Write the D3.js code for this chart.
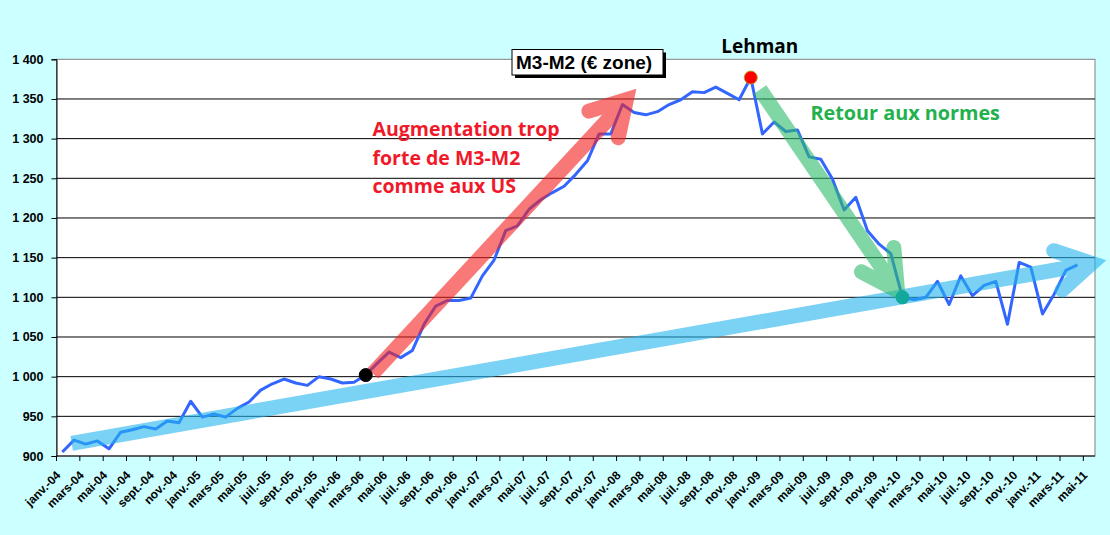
<!DOCTYPE html>
<html>
<head>
<meta charset="utf-8">
<script src="https://cdn.jsdelivr.net/npm/d3@7"></script>
<style>
  body { margin: 0; background: #ccffff; }
  svg { display: block; }
</style>
</head>
<body>
<svg id="chart" width="1110" height="535"></svg>
<script>
// Month labels (French, as in the source spreadsheet)
const monthNames = ["janv.", "févr.", "mars", "avr.", "mai", "juin", "juil.", "août", "sept.", "oct.", "nov.", "déc."];
const years = ["04", "05", "06", "07", "08", "09", "10", "11"];
const categories = [];
years.forEach(yy => monthNames.forEach(m => categories.push(m + "-" + yy)));
categories.length = 89; // janv.-04 .. mai-11

// M3-M2 euro zone, monthly
const m3m2 = [
  905, 920, 915, 919, 909, 930, 933, 937, 934, 944, 942, 969,
  949, 953, 949, 960, 968, 983, 991, 997, 992, 989, 1000, 997,
  992, 993, 1002, 1017, 1031, 1024, 1033, 1066, 1089, 1096, 1096, 1099,
  1127, 1147, 1184, 1190, 1211, 1223, 1232, 1240, 1255, 1272, 1306, 1306,
  1343, 1333, 1330, 1334, 1343, 1349, 1359, 1358, 1365, 1357, 1349, 1377,
  1306, 1321, 1309, 1311, 1277, 1274, 1249, 1210, 1226, 1184, 1167, 1155,
  1100, 1097, 1100, 1120, 1091, 1127, 1102, 1115, 1120, 1066, 1144, 1138,
  1079, 1104, 1134, 1141
];

const yTicks = [900, 950, 1000, 1050, 1100, 1150, 1200, 1250, 1300, 1350, 1400];

// highlighted months: index -> colour
const markers = [
  { i: 26, color: "#000000" },
  { i: 59, color: "#ff0000" },
  { i: 72, color: "#12a89c" }
];

// arrows in data space: [month position, value]
const trendShaft = [[1.3, 916], [88.3, 1141.6]];
const trendHead = [[85.46, 1158.8], [88.72, 1142.8], [86.19, 1109.2]];
const boomShaft = [[27.1, 1004], [48.55, 1344.5]];
const boomHead = [[45.62, 1334.7], [48.84, 1349.2], [48.14, 1301.2]];
const bustShaft = [[60.3, 1362], [71.82, 1113.5]];
const bustHead = [[68.99, 1132.2], [72.07, 1108.3], [71.76, 1162.8]];

const svg = d3.select("#chart");
const plotL = 56.5, plotR = 1095, plotT = 59.3, plotB = 456;

const x = d3.scaleBand().domain(d3.range(categories.length)).range([plotL, plotR]);
const xPos = d3.scaleLinear().domain([0, categories.length]).range([plotL, plotR]);
const y = d3.scaleLinear().domain([900, 1400]).range([plotB, plotT]);
const cx = i => x(i) + x.bandwidth() / 2;

// plot area
svg.append("rect")
  .attr("x", plotL).attr("y", plotT)
  .attr("width", plotR - plotL).attr("height", plotB - plotT)
  .attr("fill", "#fff").attr("stroke", "#808080").attr("stroke-width", 1);

// gridlines
svg.append("g").selectAll("line")
  .data(yTicks.filter(v => v > 900 && v < 1400))
  .enter().append("line")
  .attr("x1", plotL).attr("x2", plotR)
  .attr("y1", d => y(d)).attr("y2", d => y(d))
  .attr("stroke", "#000").attr("stroke-width", 1);

// y axis
const yAxis = svg.append("g")
  .attr("transform", `translate(${plotL},0)`)
  .call(d3.axisLeft(y).tickValues(yTicks).tickSize(5).tickPadding(8)
    .tickFormat(d => d3.format(",")(d).replace(",", " ")));
yAxis.select(".domain").attr("stroke", "#000");
yAxis.selectAll("text")
  .attr("font-family", "Liberation Sans, Arial, sans-serif")
  .attr("font-weight", "bold").attr("font-size", "12.5px").attr("fill", "#000");

// x axis
svg.append("line")
  .attr("x1", plotL).attr("x2", plotR).attr("y1", plotB).attr("y2", plotB)
  .attr("stroke", "#000");
const shown = d3.range(0, categories.length, 2);
svg.append("g").selectAll("line")
  .data(shown).enter().append("line")
  .attr("x1", d => x(d)).attr("x2", d => x(d))
  .attr("y1", plotB).attr("y2", plotB + 5)
  .attr("stroke", "#000");
svg.append("g").selectAll("text")
  .data(shown).enter().append("text")
  .attr("transform", d => `translate(${cx(d) - 1},${plotB + 20}) rotate(-45)`)
  .attr("text-anchor", "end")
  .attr("font-family", "Liberation Sans, Arial, sans-serif")
  .attr("font-weight", "bold").attr("font-size", "12px")
  .text(d => categories[d]);

// data line
const line = d3.line().x((d, i) => cx(i)).y(d => y(d));
svg.append("path")
  .datum(m3m2)
  .attr("d", line)
  .attr("fill", "none")
  .attr("stroke", "#3366ff")
  .attr("stroke-width", 3)
  .attr("stroke-linejoin", "round");

// arrows
const pt = d3.line().x(d => xPos(d[0])).y(d => y(d[1]));
function arrow(shaft, head, color) {
  const g = svg.append("g").attr("opacity", 0.6);
  g.append("path").attr("d", pt(shaft))
    .attr("fill", "none").attr("stroke", color).attr("stroke-width", 15);
  g.append("path").attr("d", pt(head))
    .attr("fill", "none").attr("stroke", color).attr("stroke-width", 15)
    .attr("stroke-linecap", "round").attr("stroke-linejoin", "miter")
    .attr("stroke-miterlimit", 10);
}
arrow(trendShaft, trendHead, "#22b4ee");
arrow(boomShaft, boomHead, "#f51f1f");
arrow(bustShaft, bustHead, "#2ebc6a");

// markers
svg.append("g").selectAll("circle")
  .data(markers).enter().append("circle")
  .attr("cx", d => cx(d.i))
  .attr("cy", d => y(m3m2[d.i]))
  .attr("r", 6.5)
  .attr("fill", d => d.color)
  .attr("stroke", d => d.i === 59 ? "#b89a20" : d.color)
  .attr("stroke-width", 1);

// annotations
const sans = "Open Sans, Noto Sans, sans-serif";
const boomText = svg.append("text")
  .attr("font-family", sans).attr("font-weight", "bold")
  .attr("font-size", "19.5px").attr("fill", "#f0192a");
["Augmentation trop", "forte de M3-M2", "comme aux US"].forEach((t, k) => {
  boomText.append("tspan").attr("x", 372.5).attr("y", 136 + k * 28.5).text(t);
});

svg.append("text")
  .attr("x", 810.5).attr("y", 120)
  .attr("font-family", sans).attr("font-weight", "bold")
  .attr("font-size", "19.8px").attr("fill", "#22b14c")
  .text("Retour aux normes");

svg.append("text")
  .attr("x", cx(59) + 9).attr("y", 53)
  .attr("text-anchor", "middle")
  .attr("font-family", sans).attr("font-weight", "bold")
  .attr("font-size", "19px").attr("fill", "#000")
  .text("Lehman");

// title box with shadow
svg.append("rect").attr("x", 515).attr("y", 52.5).attr("width", 151).attr("height", 25.5).attr("fill", "#000");
svg.append("rect").attr("x", 512).attr("y", 49.5).attr("width", 151).attr("height", 25.5)
  .attr("fill", "#fff").attr("stroke", "#000").attr("stroke-width", 1);
svg.append("text")
  .attr("x", 516).attr("y", 69)
  .attr("font-family", "Liberation Sans, Arial, sans-serif").attr("font-weight", "bold")
  .attr("font-size", "19px").attr("fill", "#000")
  .text("M3-M2 (€ zone)");
</script>
</body>
</html>
